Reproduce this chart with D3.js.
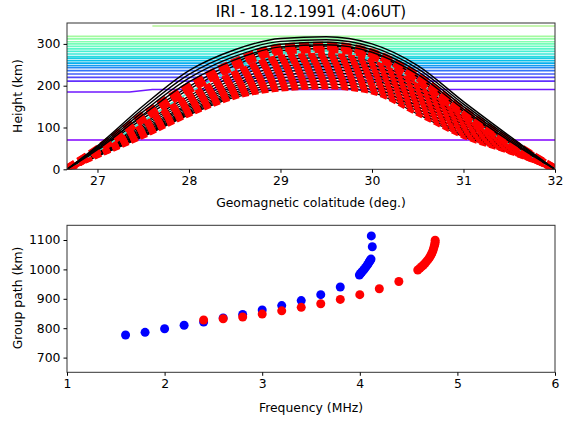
<!DOCTYPE html>
<html><head><meta charset="utf-8">
<script src="https://cdn.jsdelivr.net/npm/d3@7"></script>
<style>
body{margin:0;background:#fff;}
text{font-family:"DejaVu Sans",sans-serif;}
</style></head>
<body><svg id="c" width="580" height="421"></svg>
<script>
// ---------- top panel data ----------
const rayX = [26.667, 27, 27.5, 28, 28.5, 29, 29.5, 30, 30.5, 31, 31.5, 32];
// black rays (highest)
const raysBlack = [
  [0, 56, 152, 236, 286, 313, 317, 300, 248, 162, 80, 0],
  [0, 53, 145, 227, 278, 306, 310, 293, 241, 156, 76, 0],
  [0, 50, 138, 218, 270, 299, 304, 286, 234, 150, 72, 0],
  [0, 47, 131, 209, 262, 293, 298, 280, 227, 144, 68, 0]
];
// thick red dashed rays
const raysThick = [
  [0, 47, 128, 198, 255, 290, 295, 278, 221, 139, 67, 0],
  [0, 45, 122, 191, 248, 284, 289, 272, 215, 134, 64, 0]
];
// cyan ray
const rayCyan = [0, 43, 115, 183, 240, 278, 283, 266, 209, 130, 62, 0];
// thin red dashed rays
const raysThin = [
  [0, 42, 110, 175, 231, 269, 274, 258, 204, 127, 61, 0],
  [0, 41, 106, 169, 224, 262, 267, 251, 197, 122, 59, 0],
  [0, 40, 102, 163, 217, 255, 260, 244, 190, 117, 57, 0],
  [0, 39, 98, 157, 210, 247, 253, 237, 183, 112, 55, 0],
  [0, 38, 95, 153, 204, 240, 246, 230, 176, 107, 53, 0],
  [0, 37, 92, 149, 199, 233, 239, 224, 170, 102, 51, 0],
  [0, 36, 89, 145, 194, 226, 232, 217, 164, 97, 49, 0],
  [0, 35, 87, 141, 189, 219, 225, 210, 158, 93, 47, 0],
  [0, 34, 84, 138, 184, 212, 218, 204, 151, 89, 45, 0],
  [0, 33, 82, 135, 180, 205, 211, 197, 145, 85, 44, 0],
  [0, 32, 80, 132, 176, 198, 204, 191, 139, 81, 42, 0],
  [0, 31, 78, 130, 172, 191, 196, 184, 132, 78, 41, 0]
];
// horizontal contour lines (height km) and colormap position
const contourH = [70, 211, 220, 228, 236, 243, 248, 254, 260, 266, 270, 276, 282, 288, 294, 300, 305, 312, 318];
const contourT = [0.00, 0.06, 0.09, 0.12, 0.15, 0.18, 0.21, 0.24, 0.27, 0.30, 0.33, 0.36, 0.39, 0.42, 0.45, 0.48, 0.51, 0.54, 0.57];
const stepLineX = [26.667, 27.35, 27.6, 32];
const stepLineH = [185, 185, 191, 191];
const stepLineT = 0.03;
const topLineX = [27.6, 32];
const topLineH = [343, 343];
const topLineT = 0.60;
const topXTicks = [27, 28, 29, 30, 31, 32];
const topYTicks = [0, 100, 200, 300];

// ---------- bottom panel data ----------
const blueF = [1.6, 1.8, 2.0, 2.2, 2.4, 2.6, 2.8, 3.0, 3.2, 3.4, 3.6, 3.8,
  3.996, 4.008, 4.02, 4.032, 4.044, 4.057, 4.071, 4.082, 4.092, 4.101, 4.109, 4.115, 4.128, 4.118];
const blueG = [777, 786, 798, 810, 821, 835, 847, 862, 877, 894, 914, 940,
  981, 986, 991, 995, 1000, 1006, 1012, 1017, 1023, 1028, 1032, 1035, 1077, 1114];
const redF = [2.4, 2.6, 2.8, 3.0, 3.2, 3.4, 3.6, 3.8, 4.0, 4.2, 4.4,
  4.594, 4.615, 4.635, 4.652, 4.669, 4.686, 4.703, 4.716, 4.728, 4.738, 4.748, 4.755, 4.762, 4.768, 4.772, 4.772];
const redG = [828, 832, 838, 848, 859, 871, 883, 898, 914, 934, 959,
  998, 1004, 1010, 1015, 1021, 1028, 1035, 1041, 1048, 1055, 1063, 1070, 1078, 1085, 1092, 1099];
const botXTicks = [1, 2, 3, 4, 5, 6];
const botYTicks = [700, 800, 900, 1000, 1100];

// matplotlib "rainbow" colormap
function rainbow(t){
  const r = Math.abs(2*t - 0.5), g = Math.sin(Math.PI*t), b = Math.cos(Math.PI*t/2);
  const c = v => Math.round(Math.max(0, Math.min(1, v))*255);
  return `rgb(${c(r)},${c(g)},${c(b)})`;
}

const svg = d3.select("#c");
const L = 67, R = 555;
const FS = 12.4;

// ---------- top panel ----------
const x1 = d3.scaleLinear().domain([26.667, 32]).range([L, R]);
const y1 = d3.scaleLinear().domain([0, 350]).range([169.3, 23]);
svg.append("clipPath").attr("id","clip1").append("rect")
  .attr("x", L).attr("y", 23).attr("width", R-L).attr("height", 169.3-23);
const g1 = svg.append("g").attr("clip-path","url(#clip1)");

const hline = d3.line().x(d => x1(d[0])).y(d => y1(d[1]));
contourH.forEach((h,i) => {
  g1.append("path").attr("d", hline([[26.667,h],[32,h]]))
    .attr("fill","none").attr("stroke", rainbow(contourT[i])).attr("stroke-width", 1.6);
});
g1.append("path").attr("d", hline(stepLineX.map((v,i)=>[v, stepLineH[i]])))
  .attr("fill","none").attr("stroke", rainbow(stepLineT)).attr("stroke-width", 1.6);
g1.append("path").attr("d", hline(topLineX.map((v,i)=>[v, topLineH[i]])))
  .attr("fill","none").attr("stroke", rainbow(topLineT)).attr("stroke-width", 1.6);

const rayLine = d3.line().x((d,i) => x1(rayX[i])).y(d => y1(d)).curve(d3.curveMonotoneX);

raysThin.slice().reverse().forEach(r => {
  g1.append("path").attr("d", rayLine(r)).attr("fill","none").attr("stroke","#000").attr("stroke-width",1.2);
  g1.append("path").attr("d", rayLine(r)).attr("fill","none").attr("stroke","#ff0000")
    .attr("stroke-width",4.2).attr("stroke-dasharray","7,3");
});
g1.append("path").attr("d", rayLine(rayCyan)).attr("fill","none").attr("stroke","#40e0c8").attr("stroke-width",1.8);
raysThick.slice().reverse().forEach(r => {
  g1.append("path").attr("d", rayLine(r)).attr("fill","none").attr("stroke","#000").attr("stroke-width",1.4);
  g1.append("path").attr("d", rayLine(r)).attr("fill","none").attr("stroke","#ff0000")
    .attr("stroke-width",9).attr("stroke-dasharray","10,4");
});
raysBlack.forEach(r => {
  g1.append("path").attr("d", rayLine(r)).attr("fill","none").attr("stroke","#000").attr("stroke-width",1.4);
});

// frame & axes
function frame(y0, y1v){
  svg.append("rect").attr("x", L).attr("y", y0).attr("width", R-L).attr("height", y1v-y0)
    .attr("fill","none").attr("stroke","#333").attr("stroke-width",1);
}
function styleAxis(a){
  a.select(".domain").remove();
  a.selectAll("text").attr("font-size",FS).attr("fill","#000").attr("font-family","DejaVu Sans");
  a.selectAll("line").attr("stroke","#000");
}
frame(23, 169.3);
styleAxis(svg.append("g").attr("transform",`translate(0,169.3)`)
  .call(d3.axisBottom(x1).tickValues(topXTicks).tickFormat(d3.format("d")).tickSize(3.5).tickPadding(3)));
styleAxis(svg.append("g").attr("transform",`translate(${L},0)`)
  .call(d3.axisLeft(y1).tickValues(topYTicks).tickFormat(d3.format("d")).tickSize(3.5).tickPadding(3)));

svg.append("text").attr("x", (L+R)/2).attr("y", 17).attr("text-anchor","middle")
  .attr("font-size", 15).text("IRI - 18.12.1991 (4:06UT)");
svg.append("text").attr("x", (L+R)/2).attr("y", 207).attr("text-anchor","middle")
  .attr("font-size", FS).text("Geomagnetic colatitude (deg.)");
svg.append("text").attr("transform",`translate(22,96) rotate(-90)`).attr("text-anchor","middle")
  .attr("font-size", FS).text("Height (km)");

// ---------- bottom panel ----------
const x2 = d3.scaleLinear().domain([1, 6]).range([L, R]);
const y2 = d3.scaleLinear().domain([650, 1150]).range([372.3, 225.3]);
frame(225.3, 372.3);
const g2 = svg.append("g");
g2.selectAll("circle.b").data(blueF).enter().append("circle")
  .attr("cx", d => x2(d)).attr("cy", (d,i) => y2(blueG[i])).attr("r", 4.5).attr("fill","#0000ff");
g2.selectAll("circle.r").data(redF).enter().append("circle")
  .attr("cx", d => x2(d)).attr("cy", (d,i) => y2(redG[i])).attr("r", 4.5).attr("fill","#ff0000");

styleAxis(svg.append("g").attr("transform",`translate(0,372.3)`)
  .call(d3.axisBottom(x2).tickValues(botXTicks).tickFormat(d3.format("d")).tickSize(3.5).tickPadding(3)));
styleAxis(svg.append("g").attr("transform",`translate(${L},0)`)
  .call(d3.axisLeft(y2).tickValues(botYTicks).tickFormat(d3.format("d")).tickSize(3.5).tickPadding(3)));

svg.append("text").attr("x", (L+R)/2).attr("y", 412).attr("text-anchor","middle")
  .attr("font-size", FS).text("Frequency (MHz)");
svg.append("text").attr("transform",`translate(22,298) rotate(-90)`).attr("text-anchor","middle")
  .attr("font-size", FS).text("Group path (km)");
</script></body></html>
